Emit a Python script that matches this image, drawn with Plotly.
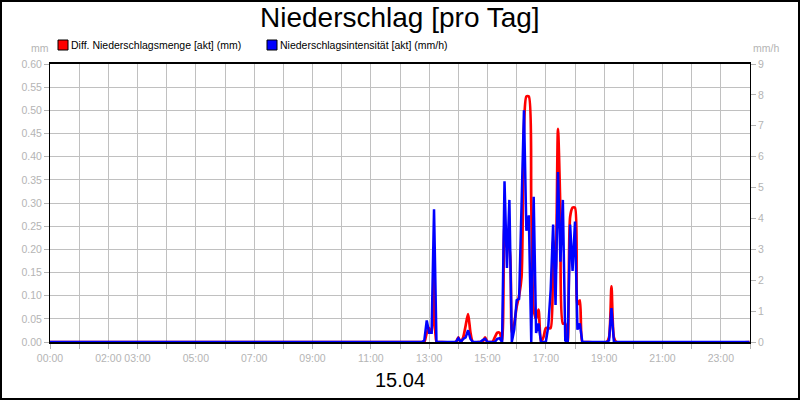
import plotly.graph_objects as go

plot_name = "Niederschlag [pro Tag]"
day = "2024-04-15"

# 5-minute readings between 12:40 and 19:30, zero for the rest of the day
times = [
    "00:00",
    "12:40", "12:45", "12:50", "12:55", "13:00", "13:05", "13:10", "13:15", "13:20",
    "13:55", "14:00", "14:05", "14:10", "14:15", "14:20", "14:25", "14:30",
    "14:45", "14:50", "14:55", "15:00", "15:05", "15:10", "15:15", "15:20", "15:25",
    "15:30", "15:35", "15:40", "15:45", "15:50", "15:55", "16:00", "16:05", "16:10",
    "16:15", "16:20", "16:25", "16:30", "16:35", "16:40", "16:45", "16:50", "16:55",
    "17:00", "17:05", "17:10", "17:15", "17:20", "17:25", "17:30", "17:35", "17:40",
    "17:45", "17:50", "17:55", "18:00", "18:05", "18:10", "18:15", "18:20",
    "19:05", "19:10", "19:15", "19:20", "19:25",
    "23:59",
]

# Diff. Niederschlagsmenge [akt] (mm)
menge_mm = [
    0,
    0, 0, 0, 0.02, 0.03, 0.02, 0.20, 0, 0,
    0, 0.01, 0, 0.01, 0.035, 0.06, 0.02, 0,
    0, 0, 0.01, 0, 0, 0, 0.01, 0.02, 0.02,
    0, 0.25, 0.205, 0.20, 0.02, 0.04, 0.076, 0.10, 0.14,
    0.46, 0.53, 0.53, 0.30, 0.07, 0.05, 0.07, 0, 0.01,
    0.03, 0.03, 0.03, 0.22, 0.15, 0.46, 0.28, 0.04, 0.04,
    0, 0.27, 0.29, 0.29, 0.08, 0.09, 0, 0,
    0, 0.01, 0.12, 0.01, 0,
    0,
]

# Niederschlagsintensität [akt] (mm/h)
intens_mmh = [
    0,
    0, 0, 0.05, 0.7, 0.3, 0.3, 4.3, 0, 0,
    0, 0.12, 0, 0.1, 0.15, 0.38, 0.1, 0,
    0, 0.06, 0.1, 0, 0, 0, 0, 0.1, 0.12,
    0, 5.2, 2.4, 4.6, 0, 0.4, 1.35, 1.4, 4.4,
    7.5, 3.6, 4.1, 0, 4.7, 0.29, 0.6, 0, 0,
    0, 0.5, 1.7, 3.8, 1.2, 5.5, 2.6, 4.6, 0.05,
    0, 3.8, 2.3, 3.9, 0.4, 0.6, 0, 0,
    0, 0.05, 1.1, 0, 0,
    0,
]

hour_ticks = [f"{h:02d}:00" for h in range(24)]
hour_labels = ["00:00", "", "02:00", "03:00", "", "05:00", "", "07:00", "", "09:00", "",
               "11:00", "", "13:00", "", "15:00", "", "17:00", "", "19:00", "", "21:00",
               "", "23:00", ""]


def main():
    x = [f"{day} {t}" for t in times]
    tickvals = [f"{day} {t}" for t in hour_ticks] + ["2024-04-16 00:00"]

    fig = go.Figure()
    # blue first so the red line sits on top
    fig.add_trace(go.Scatter(x=x, y=intens_mmh, mode='lines', yaxis='y2',
                             line=dict(color='#0000ff', width=2.5),
                             name='Niederschlagsintensität [akt] (mm/h)', showlegend=False))
    fig.add_trace(go.Scatter(x=x, y=menge_mm, mode='lines',
                             line=dict(color='#ff0000', width=2.7, shape='spline', smoothing=0.7),
                             name='Diff. Niederschlagsmenge [akt] (mm)', showlegend=False))

    tick_font = dict(family='Liberation Sans, Arial', size=10.5, color='#b4b4b4')
    fig.update_layout(
        width=800, height=400,
        margin=dict(l=50, r=50, t=64, b=58, autoexpand=False),
        paper_bgcolor='white', plot_bgcolor='white',
        font=dict(family='Liberation Sans, Arial', color='black'),
        xaxis=dict(
            type='date',
            range=[f"{day} 00:00", "2024-04-16 00:00"],
            tickmode='array', tickvals=tickvals, ticktext=hour_labels,
            tickangle=0, automargin=False,
            showgrid=True, gridcolor='#c0c0c0', gridwidth=1,
            showline=True, linecolor='black', linewidth=2, mirror=True,
            ticks='outside', ticklen=5, tickcolor='#b4b4b4',
            tickfont=tick_font, zeroline=False,
        ),
        yaxis=dict(
            range=[0, 0.6], dtick=0.05, tickformat='.2f', automargin=False,
            showgrid=True, gridcolor='#c0c0c0', gridwidth=1,
            showline=True, linecolor='black', linewidth=1, mirror=True,
            ticks='outside', ticklen=5, tickcolor='#b4b4b4',
            tickfont=tick_font, zeroline=False,
        ),
        yaxis2=dict(
            range=[0, 9], dtick=1, overlaying='y', side='right', automargin=False,
            showgrid=False, showline=True, linecolor='black', linewidth=1,
            ticks='outside', ticklen=5, tickcolor='#b4b4b4',
            tickfont=tick_font, zeroline=False,
        ),
        showlegend=False,
    )

    # title, axis units, date label and legend
    annotations = [
        dict(text=plot_name, x=0.5, y=18, font=dict(size=28, color='black')),
        dict(text='mm', x=40 / 800, y=48, font=dict(size=10.5, color='#b4b4b4')),
        dict(text='mm/h', x=766 / 800, y=48, font=dict(size=10.5, color='#b4b4b4')),
        dict(text='15.04', x=0.5, y=380, font=dict(size=20, color='black')),
    ]
    for a in annotations:
        fig.add_annotation(text=a['text'], xref='paper', yref='paper',
                           x=(a['x'] * 800 - 50) / 700,
                           y=1 + (64 - a['y']) / 278, xanchor='center', yanchor='middle',
                           showarrow=False, font=dict(family='Liberation Sans, Arial', **a['font']))

    legend_items = [("Diff. Niederschlagsmenge [akt] (mm)", '#ff0000', 63),
                    ("Niederschlagsintensität [akt] (mm/h)", '#0000ff', 272)]
    for label, color, px in legend_items:
        fig.add_shape(type='rect', xref='paper', yref='paper',
                      x0=(px - 50 - 5) / 700, x1=(px - 50 + 5) / 700,
                      y0=1 + (64 - 50) / 278, y1=1 + (64 - 40) / 278,
                      fillcolor=color, line=dict(color='black', width=1))
        fig.add_annotation(text=label, xref='paper', yref='paper',
                           x=(px - 50 + 6) / 700, y=1 + (64 - 45) / 278,
                           xanchor='left', yanchor='middle', showarrow=False,
                           font=dict(family='Liberation Sans, Arial', size=10.5, color='black'))

    # outer frame of the picture
    fig.add_shape(type='rect', xref='paper', yref='paper',
                  x0=-49 / 700, x1=749 / 700, y0=-57 / 278, y1=1 + 63 / 278,
                  line=dict(color='black', width=2), fillcolor='rgba(0,0,0,0)')

    # drop the browser's default body margin so the 800x400 figure fills the window
    fig.write_html("out.html", config={'displayModeBar': False},
                   post_script="document.body.style.margin='0';")


if __name__ == "__main__": main()
